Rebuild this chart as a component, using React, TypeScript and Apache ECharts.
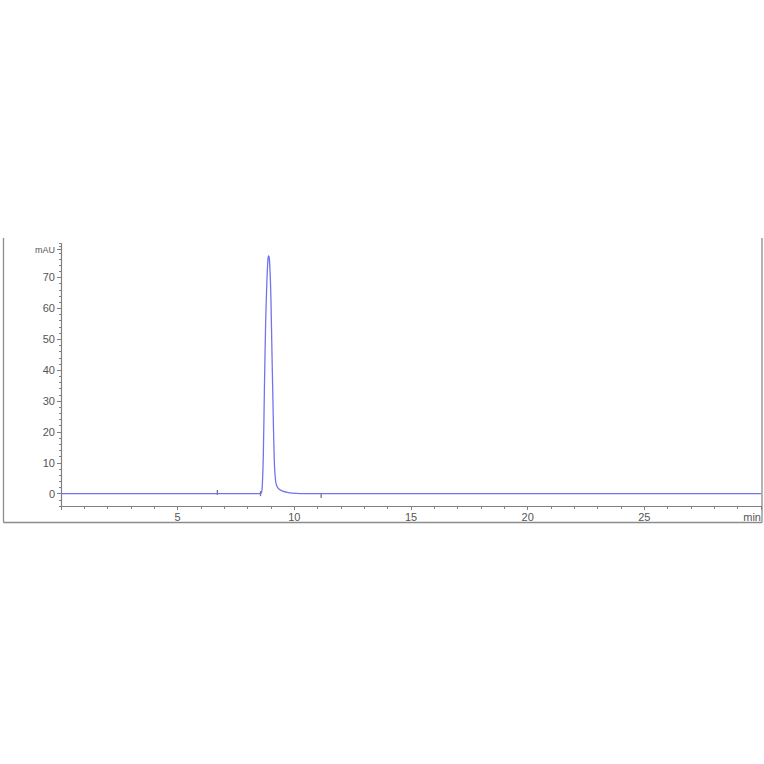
import { useEffect, useRef } from 'react';
import * as echarts from 'echarts';

// retention time (min) and absorbance (mAU)
const times = [
  0, 2, 4, 6, 8, 8.55, 8.6, 8.63, 8.67, 8.72, 8.77, 8.82, 8.87, 8.9, 8.93, 8.97, 9.0, 9.04, 9.07,
  9.11, 9.15, 9.2, 9.25, 9.35, 9.5, 9.7, 9.9, 10.5, 12, 15, 20, 25, 27, 30,
];
const signal = [
  0, 0, 0, 0, 0, 0, 0.5, 3, 12, 35, 55, 68, 76, 77, 76, 70, 62, 46, 35,
  20, 9, 4, 2.5, 1.4, 0.8, 0.4, 0.2, 0, 0, 0, 0, 0, 0, 0,
];

// integration event marks on the baseline
const markTimes = [6.7, 8.55, 11.15];
const markValues = [0.4, 0, -0.6];

const yLabelValues = [0, 10, 20, 30, 40, 50, 60, 70, 79];

const LINE_COLOR = '#7373ee';
const AXIS_COLOR = '#808080';
const TEXT_COLOR = '#555555';
const FONT = 'Liberation Sans, Arial, sans-serif';

export default function App() {
  const ref = useRef<HTMLDivElement>(null);

  useEffect(() => {
    if (!ref.current) return;
    const chart = echarts.init(ref.current, undefined, { renderer: 'svg' });

    chart.setOption({
      animation: false,
      backgroundColor: '#ffffff',
      textStyle: { fontFamily: FONT },
      grid: { left: 61, right: 2, top: 243.5, bottom: 258 },
      xAxis: {
        type: 'value',
        min: 0,
        max: 30,
        interval: 5,
        axisLine: { onZero: false, lineStyle: { color: AXIS_COLOR, width: 1.2 } },
        axisTick: { length: 4, inside: false, lineStyle: { color: AXIS_COLOR } },
        minorTick: { show: true, splitNumber: 5, length: 3, lineStyle: { color: AXIS_COLOR } },
        axisLabel: {
          color: TEXT_COLOR,
          fontSize: 11,
          margin: 5,
          alignMaxLabel: 'right',
          formatter: (v: number) => (v === 0 ? '' : v === 30 ? 'min' : String(v)),
        },
        splitLine: { show: false },
      },
      yAxis: [
        {
          type: 'value',
          min: -4,
          max: 81,
          axisLine: { show: true, onZero: false, lineStyle: { color: AXIS_COLOR, width: 1.2 } },
          axisTick: {
            show: true,
            length: 4,
            customValues: yLabelValues,
            lineStyle: { color: AXIS_COLOR },
          },
          axisLabel: {
            color: TEXT_COLOR,
            fontSize: 11,
            margin: 6,
            customValues: yLabelValues,
            formatter: (v: number) => (v === 79 ? '{u|mAU}' : String(v)),
            rich: { u: { fontSize: 9, color: TEXT_COLOR } },
          },
          splitLine: { show: false },
        },
        {
          type: 'value',
          position: 'left',
          min: -4,
          max: 81,
          interval: 2,
          axisLine: { show: false, onZero: false },
          axisTick: { show: true, length: 2, lineStyle: { color: AXIS_COLOR } },
          axisLabel: { show: false },
          splitLine: { show: false },
        },
      ],
      graphic: [
        { type: 'line', shape: { x1: 3.5, y1: 238, x2: 3.5, y2: 522.5 }, style: { stroke: '#8c8c8c', lineWidth: 1.3 } },
        { type: 'line', shape: { x1: 3.5, y1: 522.5, x2: 762, y2: 522.5 }, style: { stroke: '#8c8c8c', lineWidth: 1.3 } },
        { type: 'line', shape: { x1: 762, y1: 238, x2: 762, y2: 522.5 }, style: { stroke: '#8c8c8c', lineWidth: 1.3 } },
      ],
      series: [
        {
          type: 'line',
          data: times.map((t, i) => [t, signal[i]]),
          showSymbol: false,
          smooth: 0.3,
          clip: true,
          lineStyle: { color: LINE_COLOR, width: 1.3 },
          itemStyle: { color: LINE_COLOR },
        },
        {
          type: 'scatter',
          data: markTimes.map((t, i) => [t, markValues[i]]),
          symbol: 'rect',
          symbolSize: [1.3, 5],
          itemStyle: { color: '#555555' },
        },
      ],
    });

    return () => {
      chart.dispose();
    };
  }, []);

  return (
    <div
      ref={ref}
      style={{ position: 'fixed', left: 0, top: 0, width: 764, height: 764, background: '#fff' }}
    />
  );
}
